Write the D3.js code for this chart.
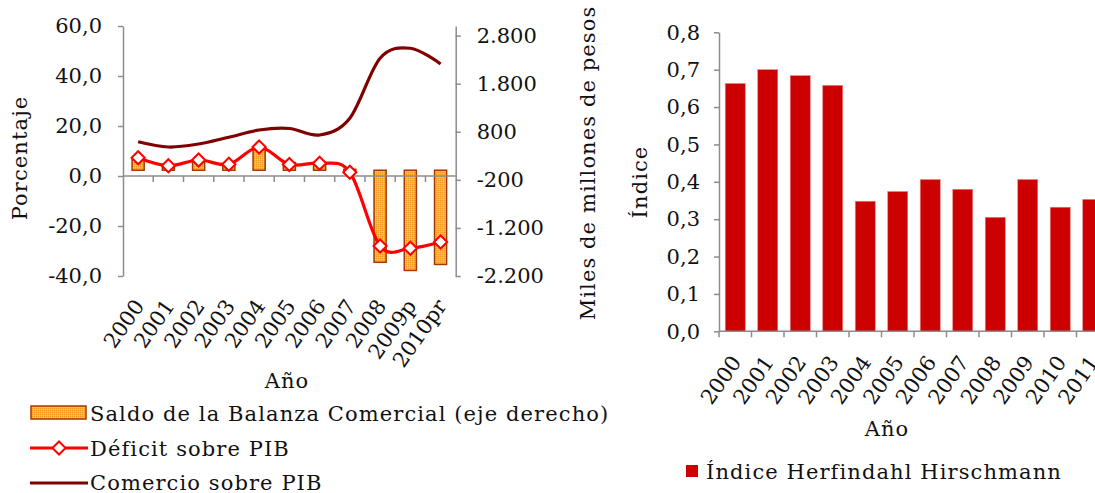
<!DOCTYPE html>
<html>
<head>
<meta charset="utf-8">
<script src="https://cdn.jsdelivr.net/npm/d3@7"></script>
<style>
  html, body { margin: 0; padding: 0; background: #fff; }
  svg { display: block; }
</style>
</head>
<body>
<svg id="chart" width="1095" height="493"></svg>
<script>
// Left panel: trade balance, deficit and trade as % of GDP
const years = ["2000", "2001", "2002", "2003", "2004", "2005", "2006", "2007", "2008", "2009p", "2010pr"];
const saldoBalanza = [260, 50, 220, 100, 430, 160, 160, 20, -1915, -2085, -1960];     // miles de millones de pesos
const deficitPIB = [7.3, 4.1, 6.4, 4.7, 11.6, 4.6, 5.1, 1.5, -28.0, -28.9, -26.4];       // %
const comercioPIB = [13.7, 11.6, 12.8, 15.5, 18.4, 19.0, 16.4, 23.1, 47.1, 51.1, 44.8]; // %
const ticksPct = [-40, -20, 0, 20, 40, 60];
const ticksPesos = [-2200, -1200, -200, 800, 1800, 2800];

// Right panel: Herfindahl-Hirschman index
const yearsHH = ["2000", "2001", "2002", "2003", "2004", "2005", "2006", "2007", "2008", "2009", "2010", "2011"];
const indiceHH = [0.663, 0.700, 0.684, 0.658, 0.348, 0.374, 0.406, 0.380, 0.305, 0.406, 0.332, 0.353];
const ticksHH = [0, 0.1, 0.2, 0.3, 0.4, 0.5, 0.6, 0.7, 0.8];

const FONT = "DejaVu Serif";
const FS = 21;
const AXIS = "#8c8c8c";
const SPACING = 1.1;

const loc = d3.formatLocale({ decimal: ",", thousands: ".", grouping: [3], currency: ["$", ""], minus: "-" });
const f1 = loc.format(".1f");
const f0 = loc.format(",.0f");

const svg = d3.select("#chart");

// textured orange fill for the balance bars
const defs = svg.append("defs");
const pat = defs.append("pattern").attr("id", "orange").attr("width", 2).attr("height", 2)
  .attr("patternUnits", "userSpaceOnUse");
pat.append("rect").attr("width", 2).attr("height", 2).attr("fill", "#fdb140");
pat.append("rect").attr("width", 1).attr("height", 1).attr("fill", "#f59a1c");
pat.append("rect").attr("x", 1).attr("y", 1).attr("width", 1).attr("height", 1).attr("fill", "#ffc45c");

function styleAxis(g) {
  g.attr("font-family", FONT).attr("font-size", FS);
  g.selectAll("path.domain").attr("stroke", AXIS).attr("stroke-width", 1.5);
  g.selectAll(".tick line").attr("stroke", AXIS).attr("stroke-width", 1.5);
  g.selectAll(".tick text").attr("fill", "#111");
}

// ---------------- Left panel ----------------
const L = { left: 123, right: 455.7, top: 26, bottom: 276 };
const xL = d3.scaleBand().domain(years).range([L.left, L.right]).paddingInner(0.6).paddingOuter(0.3);
const stepL = xL.step();
const cx = d => xL(d) + xL.bandwidth() / 2;
const yPct = d3.scaleLinear().domain([-40, 60]).range([L.bottom, L.top]);
const yPes = d3.scaleLinear().domain([-2200, 3000]).range([L.bottom, L.top]);

svg.append("g").attr("transform", `translate(${L.left},0)`)
  .call(d3.axisLeft(yPct).tickValues(ticksPct).tickFormat(f1).tickSize(5).tickSizeOuter(0).tickPadding(16))
  .call(styleAxis);

svg.append("g").attr("transform", `translate(${L.right},0)`)
  .call(d3.axisRight(yPes).tickValues(ticksPesos).tickFormat(f0).tickSize(5).tickSizeOuter(0).tickPadding(16))
  .call(styleAxis);

// bars (right axis)
svg.append("g").selectAll("rect").data(years).join("rect")
  .attr("x", d => xL(d))
  .attr("width", xL.bandwidth())
  .attr("y", (d, i) => Math.min(yPes(0), yPes(saldoBalanza[i])))
  .attr("height", (d, i) => Math.abs(yPes(saldoBalanza[i]) - yPes(0)))
  .attr("fill", "url(#orange)")
  .attr("stroke", "#a23a00").attr("stroke-width", 1.5);

// category axis at 0 %
const y0 = yPct(0);
svg.append("line").attr("x1", L.left).attr("x2", L.right).attr("y1", y0).attr("y2", y0)
  .attr("stroke", AXIS).attr("stroke-width", 1.5);
svg.append("g").selectAll("line").data(d3.range(1, years.length)).join("line")
  .attr("x1", i => L.left + i * stepL).attr("x2", i => L.left + i * stepL)
  .attr("y1", y0).attr("y2", y0 + 6)
  .attr("stroke", AXIS).attr("stroke-width", 1.5);

// lines
const curve = d3.curveCatmullRom.alpha(0);
svg.append("path").datum(comercioPIB)
  .attr("d", d3.line().x((v, i) => cx(years[i])).y(v => yPct(v)).curve(curve))
  .attr("fill", "none").attr("stroke", "#800000").attr("stroke-width", 3.2);

svg.append("path").datum(deficitPIB)
  .attr("d", d3.line().x((v, i) => cx(years[i])).y(v => yPct(v)).curve(curve))
  .attr("fill", "none").attr("stroke", "#ff0000").attr("stroke-width", 3.2);

const diamond = d3.symbol().type(d3.symbolDiamond2).size(110);
svg.append("g").selectAll("path").data(deficitPIB).join("path")
  .attr("transform", (v, i) => `translate(${cx(years[i])},${yPct(v)})`)
  .attr("d", diamond)
  .attr("fill", "#fff").attr("stroke", "#ff0000").attr("stroke-width", 2);

// category labels
const ROT = -55;
svg.append("g").attr("font-family", FONT).attr("font-size", FS).attr("fill", "#111")
  .selectAll("text").data(years).join("text")
  .attr("text-anchor", "end")
  .attr("transform", d => `translate(${cx(d) + 7},${L.bottom + 30}) rotate(${ROT})`)
  .text(d => d);

// titles and legend labels
const txt = (x, y, s, rot, anchor = "middle") => svg.append("text")
  .attr("font-family", FONT).attr("font-size", FS).attr("fill", "#111")
  .attr("letter-spacing", SPACING)
  .attr("text-anchor", anchor)
  .attr("transform", `translate(${x},${y})${rot ? ` rotate(${rot})` : ""}`)
  .text(s);

txt(287, 388, "Año");
txt(27, 158, "Porcentaje", -90);
txt(595, 163, "Miles de millones de pesos", -90);

// legend
const lg = svg.append("g");
lg.append("rect").attr("x", 31).attr("y", 406).attr("width", 55).attr("height", 13)
  .attr("fill", "url(#orange)").attr("stroke", "#a23a00").attr("stroke-width", 1.5);
txt(90, 421, "Saldo de la Balanza Comercial (eje derecho)", null, "start");
lg.append("line").attr("x1", 30).attr("x2", 88).attr("y1", 448).attr("y2", 448)
  .attr("stroke", "#ff0000").attr("stroke-width", 3.2);
lg.append("path").attr("transform", "translate(59,448)").attr("d", diamond)
  .attr("fill", "#fff").attr("stroke", "#ff0000").attr("stroke-width", 2);
txt(90, 456, "Déficit sobre PIB", null, "start");
lg.append("line").attr("x1", 30).attr("x2", 88).attr("y1", 483).attr("y2", 483)
  .attr("stroke", "#800000").attr("stroke-width", 3.2);
txt(90, 490, "Comercio sobre PIB", null, "start");

// ---------------- Right panel ----------------
const R = { left: 719, top: 32.3, bottom: 331.3 };
const stepR = 32.5;
const xR = d3.scaleBand().domain(yearsHH).range([R.left, R.left + stepR * yearsHH.length])
  .paddingInner(0.385).paddingOuter(0.1925);
const yH = d3.scaleLinear().domain([0, 0.8]).range([R.bottom, R.top]);

svg.append("g").selectAll("rect").data(yearsHH).join("rect")
  .attr("x", d => xR(d))
  .attr("width", xR.bandwidth())
  .attr("y", (d, i) => yH(indiceHH[i]))
  .attr("height", (d, i) => yH(0) - yH(indiceHH[i]))
  .attr("fill", "#cc0000").attr("stroke", "#e88080").attr("stroke-width", 0.6);

svg.append("g").attr("transform", `translate(${R.left},0)`)
  .call(d3.axisLeft(yH).tickValues(ticksHH).tickFormat(f1).tickSize(5).tickSizeOuter(0).tickPadding(14))
  .call(styleAxis);

svg.append("line").attr("x1", R.left).attr("x2", R.left + stepR * yearsHH.length)
  .attr("y1", R.bottom).attr("y2", R.bottom).attr("stroke", AXIS).attr("stroke-width", 1.5);
svg.append("g").selectAll("line").data(d3.range(0, yearsHH.length)).join("line")
  .attr("x1", i => R.left + i * stepR).attr("x2", i => R.left + i * stepR)
  .attr("y1", R.bottom).attr("y2", R.bottom + 6)
  .attr("stroke", AXIS).attr("stroke-width", 1.5);

svg.append("g").attr("font-family", FONT).attr("font-size", FS).attr("fill", "#111")
  .selectAll("text").data(yearsHH).join("text")
  .attr("text-anchor", "end")
  .attr("transform", d => `translate(${xR(d) + xR.bandwidth() / 2 + 7},${R.bottom + 31}) rotate(${ROT})`)
  .text(d => d);

txt(887, 436, "Año");
txt(647, 182, "Índice", -90);

svg.append("rect").attr("x", 686).attr("y", 465).attr("width", 12).attr("height", 12).attr("fill", "#cc0000");
txt(706, 479, "Índice Herfindahl Hirschmann", null, "start");
</script>
</body>
</html>
